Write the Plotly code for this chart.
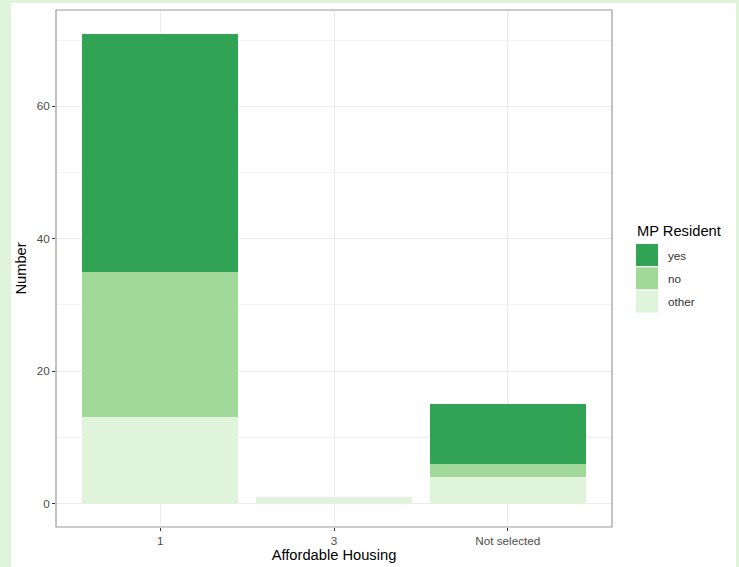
import plotly.graph_objects as go

categories = ["1", "3", "Not selected"]
series_names = ["other", "no", "yes"]
other_vals = [13, 1, 4]
no_vals = [22, 0, 2]
yes_vals = [36, 0, 9]
colors = {"yes": "#31a354", "no": "#a1d99b", "other": "#e0f3db"}
legend_order = ["yes", "no", "other"]
y_ticks = [0, 20, 40, 60]

values = {"other": other_vals, "no": no_vals, "yes": yes_vals}

fig = go.Figure()
for name in series_names:
    fig.add_trace(go.Bar(x=categories, y=values[name], name=name,
                         marker=dict(color=colors[name], line=dict(width=0)),
                         showlegend=False))

W, H = 739, 567
L, R, T, B = 56, 127, 10, 40
pw, ph = W - L - R, H - T - B

def px2x(px):
    return (px - L) / pw

def px2y(py):
    return (H - B - py) / ph

shapes = [
    dict(type="rect", xref="paper", yref="paper", layer="below",
         x0=px2x(11), x1=px2x(736), y0=px2y(575), y1=px2y(3),
         fillcolor="white", line=dict(width=0)),
    dict(type="rect", xref="paper", yref="paper", layer="above",
         x0=0, x1=1, y0=0, y1=1, line=dict(color="#9a9a9a", width=1.2)),
]
annotations = [
    dict(text="MP Resident", xref="paper", yref="paper", x=px2x(635), y=px2y(231),
         xanchor="left", yanchor="middle", showarrow=False,
         font=dict(size=14.7, color="#000000")),
]
for i, name in enumerate(legend_order):
    top = 244 + i * 23.3
    shapes.append(dict(type="rect", xref="paper", yref="paper",
                       x0=px2x(636), x1=px2x(658), y0=px2y(top + 22), y1=px2y(top),
                       fillcolor=colors[name], line=dict(width=0)))
    annotations.append(dict(text=name, xref="paper", yref="paper",
                            x=px2x(666), y=px2y(top + 11), xanchor="left", yanchor="middle",
                            showarrow=False, font=dict(size=11.7, color="#333333")))

fig.update_layout(
    width=W, height=H,
    margin=dict(l=L, r=R, t=T, b=B, autoexpand=False),
    paper_bgcolor="#e0f3db",
    plot_bgcolor="white",
    barmode="stack",
    bargap=0.1,
    font=dict(family="Liberation Sans, Arial, sans-serif"),
    shapes=shapes,
    annotations=annotations,
    xaxis=dict(type="category", range=[-0.6, 2.6], automargin=False,
               showgrid=True, gridcolor="#ebebeb", gridwidth=1,
               ticks="outside", ticklen=3, tickcolor="#333333",
               tickfont=dict(size=11.7, color="#4d4d4d"),
               title=dict(text="Affordable Housing", font=dict(size=14.7, color="#000000"), standoff=3),
               zeroline=False, showline=False),
    yaxis=dict(range=[-3.55, 74.55], tickvals=y_ticks, automargin=False,
               showgrid=True, gridcolor="#ebebeb", gridwidth=1,
               minor=dict(dtick=10, tick0=0, showgrid=True, gridcolor="#f2f2f2", gridwidth=0.6),
               ticks="outside", ticklen=3, tickcolor="#333333",
               tickfont=dict(size=11.7, color="#4d4d4d"),
               title=dict(text="Number", font=dict(size=14.7, color="#000000"), standoff=6),
               zeroline=False, showline=False),
)

fig.write_html("out.html", config={"displayModeBar": False},
               post_script="document.body.style.margin='0';document.body.style.overflow='hidden';")
